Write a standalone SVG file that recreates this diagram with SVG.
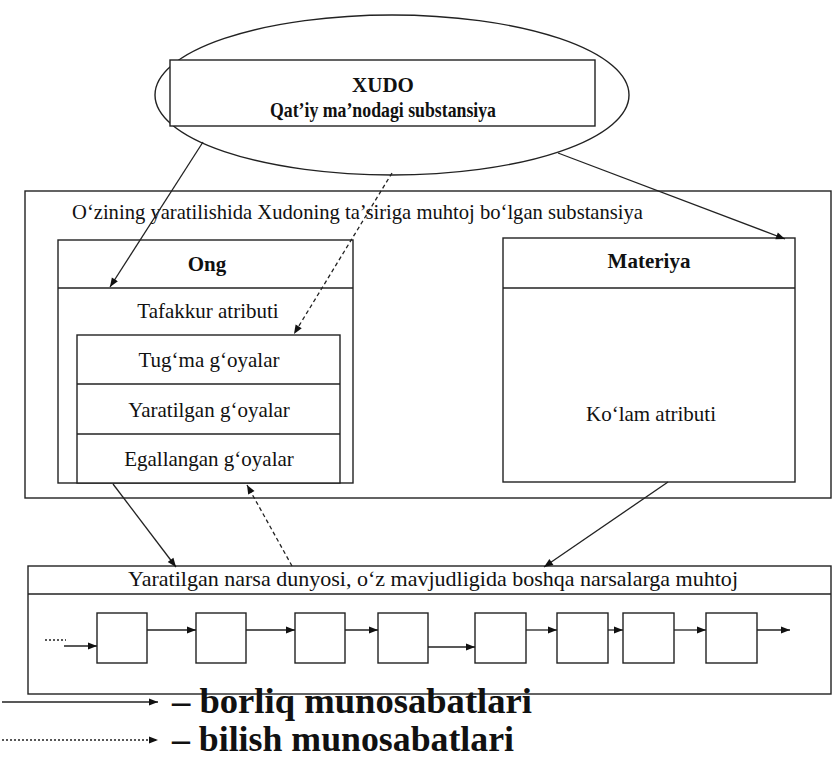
<svg xmlns="http://www.w3.org/2000/svg" width="835" height="778" viewBox="0 0 835 778">
<defs>
<marker id="ah" viewBox="0 0 10 10" refX="10" refY="5" markerWidth="10" markerHeight="9" markerUnits="userSpaceOnUse" orient="auto"><path d="M0,1 L10,5 L0,9 z" fill="#111"/></marker>
</defs>
<style>
.box{fill:#fff;stroke:#222;stroke-width:1.4}
.sep{stroke:#222;stroke-width:1.3}
.t{font-family:"Liberation Serif","Times New Roman",serif;fill:#111;text-anchor:middle;font-size:21px}
.b{font-weight:bold}
.ln{stroke:#222;stroke-width:1.3;fill:none}
.ds{stroke-dasharray:4 3}
.dt{stroke-dasharray:2 2}
.lg{font-family:"Liberation Serif","Times New Roman",serif;fill:#111;font-weight:bold;font-size:36px}
</style>
<rect width="835" height="778" fill="#fff"/>
<g id="xudo">
<ellipse cx="392" cy="95" rx="237" ry="80" fill="#fff" stroke="#222" stroke-width="1.4"/>
<rect class="box" x="170" y="60" width="425" height="66"/>
<text class="t b" x="383" y="92">XUDO</text>
<text class="t b" x="383" y="117" textLength="226" lengthAdjust="spacingAndGlyphs">Qat’iy ma’nodagi substansiya</text>
</g>
<g id="substansiya">
<rect class="box" x="25" y="191" width="806" height="307"/>
<text class="t" x="72" y="219" style="text-anchor:start" textLength="571" lengthAdjust="spacingAndGlyphs">O‘zining  yaratilishida Xudoning  ta’siriga  muhtoj bo‘lgan substansiya</text>
</g>
<g id="ong">
<rect class="box" x="58" y="240" width="295" height="243"/>
<line class="sep" x1="58" y1="288" x2="353" y2="288"/>
<text class="t b" x="207" y="271">Ong</text>
<text class="t" x="208" y="318">Tafakkur atributi</text>
</g>
<g id="goyalar">
<rect class="box" x="77" y="335" width="263" height="148"/>
<line class="sep" x1="77" y1="384" x2="340" y2="384"/>
<line class="sep" x1="77" y1="434" x2="340" y2="434"/>
<text class="t" x="209" y="367">Tug‘ma g‘oyalar</text>
<text class="t" x="209" y="417">Yaratilgan g‘oyalar</text>
<text class="t" x="209" y="466">Egallangan g‘oyalar</text>
</g>
<g id="materiya">
<rect class="box" x="503" y="238" width="292" height="244"/>
<line class="sep" x1="503" y1="288" x2="795" y2="288"/>
<text class="t b" x="649" y="268">Materiya</text>
<text class="t" x="651" y="421">Ko‘lam atributi</text>
</g>
<g id="dunyo">
<rect class="box" x="28" y="566" width="803" height="128"/>
<line class="sep" x1="28" y1="594" x2="831" y2="594"/>
<text class="t" x="128" y="586" style="text-anchor:start" textLength="610" lengthAdjust="spacingAndGlyphs">Yaratilgan narsa dunyosi, o‘z mavjudligida boshqa narsalarga muhtoj</text>
</g>
<g id="narsalar">
<rect class="box" x="97" y="613" width="50" height="50"/>
<rect class="box" x="196" y="613" width="50" height="50"/>
<rect class="box" x="295" y="613" width="50" height="50"/>
<rect class="box" x="378" y="613" width="50" height="50"/>
<rect class="box" x="475" y="613" width="51" height="50"/>
<rect class="box" x="557" y="613" width="51" height="50"/>
<rect class="box" x="623" y="613" width="51" height="50"/>
<rect class="box" x="706" y="613" width="51" height="50"/>
</g>
<g id="connectors">
<line class="ln" x1="203" y1="142" x2="110" y2="287" marker-end="url(#ah)"/>
<line class="ln ds" x1="392" y1="173" x2="294" y2="334" marker-end="url(#ah)"/>
<line class="ln" x1="558" y1="153" x2="785" y2="239" marker-end="url(#ah)"/>
<line class="ln" x1="113" y1="484" x2="176" y2="567" marker-end="url(#ah)"/>
<line class="ln ds" x1="292" y1="566" x2="247" y2="485" marker-end="url(#ah)"/>
<line class="ln" x1="668" y1="482" x2="544" y2="567" marker-end="url(#ah)"/>
<line class="ln dt" x1="45" y1="640" x2="66" y2="640"/>
<line class="ln" x1="64" y1="646" x2="97" y2="646" marker-end="url(#ah)"/>
<line class="ln" x1="147" y1="630" x2="196" y2="630" marker-end="url(#ah)"/>
<line class="ln" x1="246" y1="630" x2="295" y2="630" marker-end="url(#ah)"/>
<line class="ln" x1="345" y1="630" x2="378" y2="630" marker-end="url(#ah)"/>
<line class="ln" x1="428" y1="647" x2="475" y2="647" marker-end="url(#ah)"/>
<line class="ln" x1="526" y1="630" x2="557" y2="630" marker-end="url(#ah)"/>
<line class="ln" x1="608" y1="630" x2="623" y2="630" marker-end="url(#ah)"/>
<line class="ln" x1="674" y1="630" x2="706" y2="630" marker-end="url(#ah)"/>
<line class="ln" x1="757" y1="630" x2="790" y2="630" marker-end="url(#ah)"/>
</g>
<g id="legend">
<line class="ln" x1="2" y1="702" x2="158" y2="702" marker-end="url(#ah)"/>
<line class="ln dt" x1="2" y1="740" x2="158" y2="740" marker-end="url(#ah)"/>
<text class="lg" x="172" y="713" textLength="360" lengthAdjust="spacingAndGlyphs">– borliq munosabatlari</text>
<text class="lg" x="172" y="751" textLength="342" lengthAdjust="spacingAndGlyphs">– bilish munosabatlari</text>
</g>
</svg>
